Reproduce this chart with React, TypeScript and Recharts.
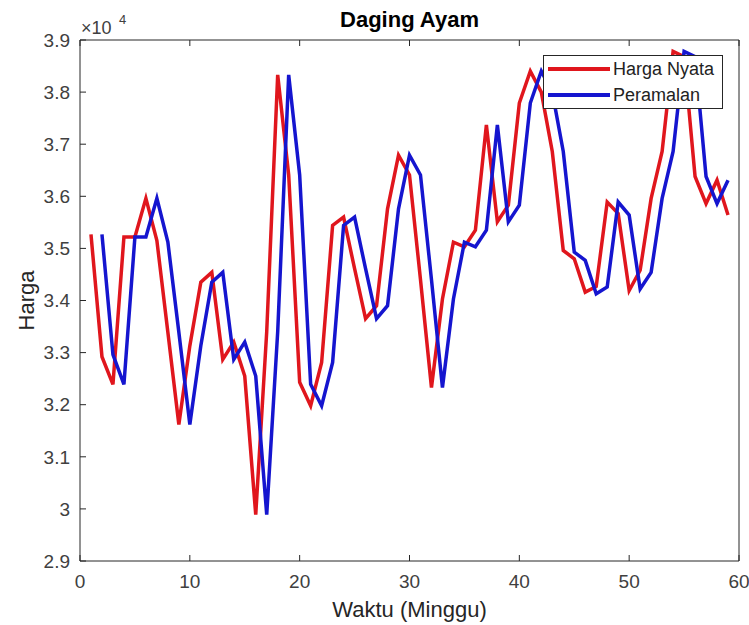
import React from 'react';
import { LineChart, Line, XAxis, YAxis, Legend } from 'recharts';

// minggu ke-1 .. ke-59
const weeks = [
  1, 2, 3, 4, 5, 6, 7, 8, 9, 10, 11, 12, 13, 14, 15, 16, 17, 18, 19, 20,
  21, 22, 23, 24, 25, 26, 27, 28, 29, 30, 31, 32, 33, 34, 35, 36, 37, 38, 39, 40,
  41, 42, 43, 44, 45, 46, 47, 48, 49, 50, 51, 52, 53, 54, 55, 56, 57, 58, 59,
];

const hargaNyata = [
  35270, 32920, 32390, 35220, 35220, 35960, 35150, 33390, 31620, 33130,
  34350, 34540, 32870, 33200, 32550, 29890, 33400, 38330, 36410, 32430,
  31980, 32810, 35440, 35600, 34610, 33650, 33900, 35760, 36790, 36410,
  34400, 32330, 34030, 35120, 35030, 35350, 37370, 35510, 35830, 37790,
  38400, 38000, 36860, 34960, 34800, 34160, 34270, 35890, 35670, 34190,
  34580, 35960, 36860, 38780, 38680, 36380, 35860, 36310, 35640,
];

const peramalan = [
  null, 35270, 32960, 32390, 35220, 35220, 35960, 35120, 33390, 31620,
  33130, 34350, 34540, 32870, 33200, 32550, 29890, 33400, 38330, 36410,
  32390, 31980, 32810, 35440, 35600, 34610, 33650, 33900, 35760, 36790,
  36410, 34400, 32330, 34030, 35120, 35030, 35350, 37370, 35510, 35830,
  37790, 38400, 38000, 36860, 34930, 34770, 34130, 34260, 35890, 35640,
  34220, 34540, 35960, 36860, 38780, 38680, 36380, 35860, 36310,
];

const xTicks = [0, 10, 20, 30, 40, 50, 60];
const yTicks = [29000, 30000, 31000, 32000, 33000, 34000, 35000, 36000, 37000, 38000, 39000];

const RED = '#e0161d';
const BLUE = '#1515cf';
const AXIS = '#262626';
const FONT = '"Liberation Sans", Arial, Helvetica, sans-serif';

const data = weeks.map((w, i) => ({
  week: w,
  nyata: hargaNyata[i],
  ramal: peramalan[i],
}));

const tickStyle = { fill: '#404040', fontSize: 19, fontFamily: FONT };
const fmtY = (v: number) => String(Number((v / 10000).toFixed(1)));

function LegendBox() {
  const rows = [
    { label: 'Harga Nyata', color: RED },
    { label: 'Peramalan', color: BLUE },
  ];
  return (
    <div
      style={{
        width: 178,
        height: 52,
        border: `1px solid ${AXIS}`,
        background: '#fff',
        fontFamily: FONT,
        fontSize: 18,
        color: '#222',
      }}
    >
      {rows.map((r) => (
        <div key={r.label} style={{ display: 'flex', alignItems: 'center', height: 26 }}>
          <div style={{ width: 62, height: 4, background: r.color, marginLeft: 4, marginRight: 3 }} />
          <span style={{ lineHeight: '26px' }}>{r.label}</span>
        </div>
      ))}
    </div>
  );
}

export default function App() {
  return (
    <div style={{ position: 'absolute', left: 0, top: 0, width: 749, height: 625, background: '#fff' }}>
      <div
        style={{
          position: 'absolute',
          left: 80,
          width: 659,
          top: 9,
          lineHeight: '22px',
          textAlign: 'center',
          fontFamily: FONT,
          fontWeight: 'bold',
          fontSize: 22,
          color: '#000',
          zIndex: 2,
        }}
      >
        Daging Ayam
      </div>
      <div
        style={{
          position: 'absolute',
          left: 81,
          top: 19,
          lineHeight: '18px',
          fontFamily: FONT,
          fontSize: 18,
          color: '#404040',
          zIndex: 2,
          whiteSpace: 'nowrap',
        }}
      >
        ×10
      </div>
      <div
        style={{
          position: 'absolute',
          left: 119,
          top: 13,
          lineHeight: '13px',
          fontFamily: FONT,
          fontSize: 13,
          color: '#404040',
          zIndex: 2,
        }}
      >
        4
      </div>
      <LineChart width={749} height={625} data={data} margin={{ top: 39, right: 9, bottom: 0, left: 0 }}>
        <XAxis
          dataKey="week"
          type="number"
          domain={[0, 60]}
          ticks={xTicks}
          height={64}
          stroke={AXIS}
          tickSize={-6}
          tickMargin={20}
          tick={tickStyle}
          label={{
            value: 'Waktu (Minggu)',
            position: 'insideBottom',
            offset: 8,
            fill: '#262626',
            fontSize: 22,
            fontFamily: FONT,
          }}
        />
        <XAxis
          xAxisId="top"
          dataKey="week"
          type="number"
          orientation="top"
          domain={[0, 60]}
          ticks={xTicks}
          height={1}
          stroke={AXIS}
          tickSize={-6}
          tickFormatter={() => ''}
        />
        <YAxis
          type="number"
          domain={[29000, 39000]}
          ticks={yTicks}
          width={80}
          stroke={AXIS}
          tickSize={-6}
          tickMargin={16}
          tick={tickStyle}
          tickFormatter={fmtY}
          label={{
            value: 'Harga',
            angle: -90,
            position: 'center',
            dx: -14,
            fill: '#262626',
            fontSize: 22,
            fontFamily: FONT,
          }}
        />
        <YAxis
          yAxisId="right"
          type="number"
          orientation="right"
          domain={[29000, 39000]}
          ticks={yTicks}
          width={1}
          stroke={AXIS}
          tickSize={-6}
          tickFormatter={() => ''}
        />
        <Line
          type="linear"
          dataKey="nyata"
          name="Harga Nyata"
          stroke={RED}
          strokeWidth={3.5}
          dot={false}
          isAnimationActive={false}
        />
        <Line
          type="linear"
          dataKey="ramal"
          name="Peramalan"
          stroke={BLUE}
          strokeWidth={3.5}
          dot={false}
          isAnimationActive={false}
        />
        <Legend
          layout="vertical"
          align="center"
          verticalAlign="middle"
          content={() => <LegendBox />}
          wrapperStyle={{ left: 543, top: 55, width: 180, height: 54 }}
        />
      </LineChart>
    </div>
  );
}
